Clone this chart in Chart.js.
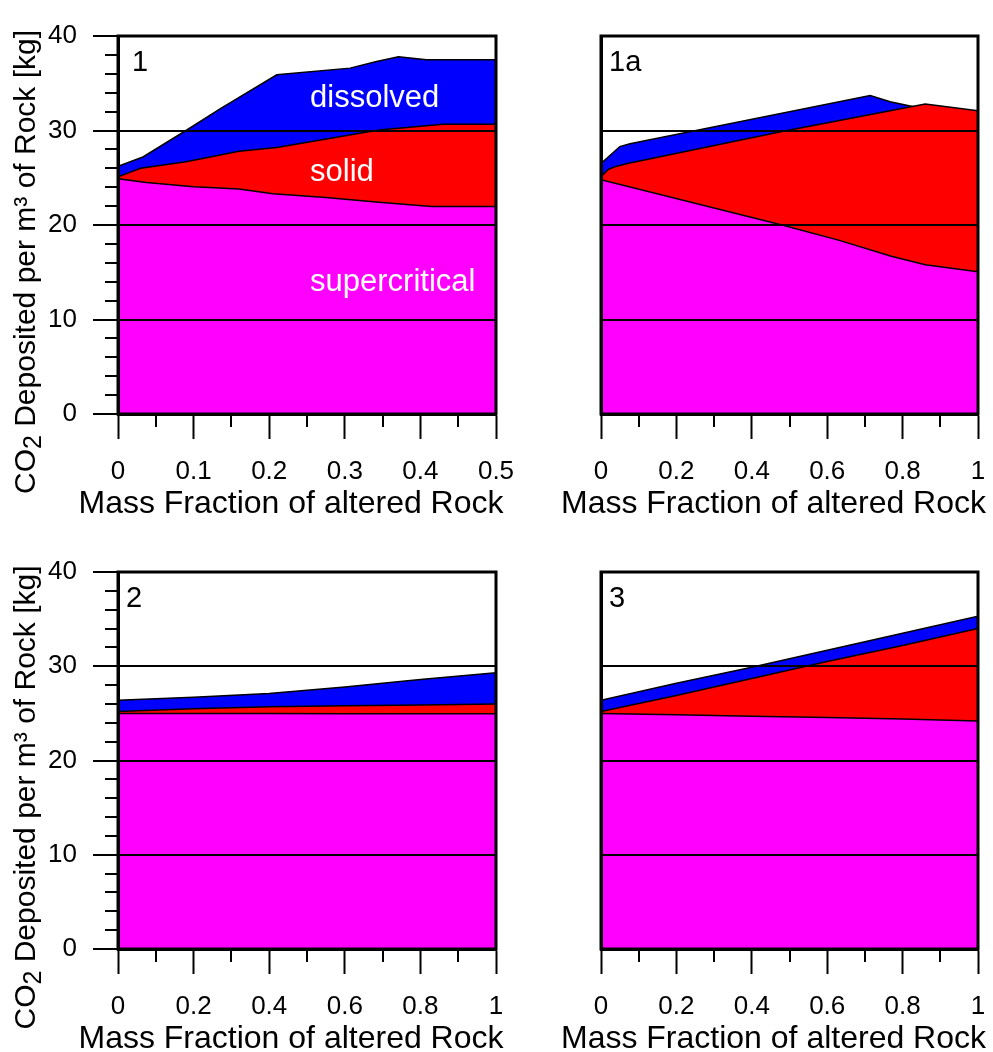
<!DOCTYPE html>
<html>
<head>
<meta charset="utf-8">
<title>CO2 deposited per m³ of rock</title>
<script src="https://cdn.jsdelivr.net/npm/chart.js@4/dist/chart.umd.min.js"></script>
<style>
  html, body { margin: 0; padding: 0; background: #fff; overflow: hidden; }
  #wrap { position: relative; width: 993px; height: 1052px; }
  canvas { position: absolute; }
</style>
</head>
<body>
<div id="wrap">
  <canvas id="c1"  width="520" height="526" style="left:0px;top:0px"></canvas>
  <canvas id="c1a" width="473" height="526" style="left:520px;top:0px"></canvas>
  <canvas id="c2"  width="520" height="516" style="left:0px;top:536px"></canvas>
  <canvas id="c3"  width="473" height="516" style="left:520px;top:536px"></canvas>
</div>
<script>
// ---- Case 1 (mass fraction 0 - 0.5) ----
const case1SuperX = [0, 0.0375, 0.1, 0.16, 0.205, 0.275, 0.345, 0.415, 0.5];
const case1SuperY = [24.9, 24.5, 24.05, 23.8, 23.3, 22.9, 22.4, 21.95, 21.95];
const case1SolidX = [0, 0.0165, 0.03, 0.09, 0.16, 0.21, 0.345, 0.43, 0.5];
const case1SolidY = [25.1, 25.6, 26.0, 26.7, 27.8, 28.2, 30.05, 30.65, 30.65];
const case1DissX  = [0, 0.033, 0.09, 0.135, 0.21, 0.307, 0.342, 0.371, 0.408, 0.5];
const case1DissY  = [26.2, 27.2, 30.0, 32.3, 35.9, 36.6, 37.3, 37.8, 37.5, 37.5];

// ---- Case 1a ----
const case1aSuperX = [0, 0.48, 0.63, 0.77, 0.86, 1.0];
const case1aSuperY = [24.8, 20.0, 18.4, 16.7, 15.8, 15.05];
const case1aSolidX = [0, 0.02, 0.04, 0.07, 0.48, 0.86, 1.0];
const case1aSolidY = [25.1, 25.9, 26.2, 26.5, 29.9, 32.8, 32.1];
const case1aDissX  = [0, 0.05, 0.077, 0.714, 0.767, 0.82, 1.0];
const case1aDissY  = [26.5, 28.3, 28.6, 33.7, 33.05, 32.6, 31.2];

// ---- Case 2 ----
const case2X      = [0, 0.2, 0.4, 0.6, 0.8, 1.0];
const case2Super  = [25.0, 25.0, 25.0, 24.95, 24.95, 24.95];
const case2Solid  = [25.2, 25.5, 25.7, 25.8, 25.9, 26.0];
const case2Diss   = [26.4, 26.7, 27.1, 27.8, 28.6, 29.3];

// ---- Case 3 ----
const case3X      = [0, 0.2, 0.4, 0.6, 0.8, 1.0];
const case3Super  = [25.0, 24.85, 24.7, 24.55, 24.4, 24.2];
const case3Solid  = [25.2, 26.9, 28.7, 30.5, 32.2, 34.0];
const case3Diss   = [26.4, 28.2, 29.9, 31.7, 33.5, 35.3];

// ---- Axes ----
const halfXTicks       = [0, 0.1, 0.2, 0.3, 0.4, 0.5];
const halfXTickLabels  = ['0', '0.1', '0.2', '0.3', '0.4', '0.5'];
const halfXMinor       = [0.05, 0.15, 0.25, 0.35, 0.45];
const fullXTicks       = [0, 0.2, 0.4, 0.6, 0.8, 1];
const fullXTickLabels  = ['0', '0.2', '0.4', '0.6', '0.8', '1'];
const fullXMinor       = [0.1, 0.3, 0.5, 0.7, 0.9];
const yTicks           = [0, 10, 20, 30, 40];
const yTickLabels      = ['0', '10', '20', '30', '40'];
const yMinor           = [2, 4, 6, 8, 12, 14, 16, 18, 22, 24, 26, 28, 32, 34, 36, 38];

const xTitle = 'Mass Fraction of altered Rock';
const seriesNames = ['supercritical', 'solid', 'dissolved'];
const seriesColors = ['#FF00FF', '#FF0000', '#0000FF'];

const FONT = '"Liberation Sans", Arial, Helvetica, sans-serif';

function pts(xs, ys) { return xs.map((x, i) => ({ x: x, y: ys[i] })); }

// Frame, minor ticks, panel label, axis titles and in-plot region names
const panelDecor = {
  id: 'panelDecor',
  afterDraw(chart, args, o) {
    const ctx = chart.ctx;
    const a = chart.chartArea;
    const xs = chart.scales.x, ys = chart.scales.y;
    ctx.save();
    // frame
    ctx.strokeStyle = '#000';
    ctx.lineWidth = 3;
    ctx.strokeRect(a.left, a.top, a.right - a.left, a.bottom - a.top);
    // minor ticks
    ctx.lineWidth = 2;
    ctx.beginPath();
    o.xMinor.forEach(v => {
      const px = Math.round(xs.getPixelForValue(v));
      ctx.moveTo(px, a.bottom);
      ctx.lineTo(px, a.bottom + 13);
    });
    if (o.showY) {
      yMinor.forEach(v => {
        const py = Math.round(ys.getPixelForValue(v));
        ctx.moveTo(a.left - 13, py);
        ctx.lineTo(a.left, py);
      });
    }
    ctx.stroke();
    // panel label
    ctx.fillStyle = '#000';
    ctx.textAlign = 'left';
    ctx.textBaseline = 'alphabetic';
    ctx.font = '29px ' + FONT;
    ctx.fillText(o.label, a.left + o.labelDx, a.top + 35);
    // x title
    ctx.font = '32px ' + FONT;
    ctx.textAlign = 'center';
    ctx.fillText(xTitle, (a.left + a.right) / 2 - 16, a.bottom + 99);
    // y title with subscript
    if (o.showY) {
      ctx.save();
      ctx.translate(35, (a.top + a.bottom) / 2 + 37);
      ctx.rotate(-Math.PI / 2);
      const parts = [
        { t: 'CO', f: '30px ' + FONT, dy: 0 },
        { t: '2', f: '25px ' + FONT, dy: 6 },
        { t: ' Deposited per m\u00B3 of Rock [kg]', f: '30px ' + FONT, dy: 0 }
      ];
      let w = 0;
      parts.forEach(p => { ctx.font = p.f; p.w = ctx.measureText(p.t).width; w += p.w; });
      let x = -w / 2;
      ctx.textAlign = 'left';
      parts.forEach(p => { ctx.font = p.f; ctx.fillText(p.t, x, p.dy); x += p.w; });
      ctx.restore();
    }
    // region names
    if (o.notes) {
      ctx.fillStyle = '#fff';
      ctx.textAlign = 'left';
      ctx.font = '31px ' + FONT;
      o.notes.forEach(n => {
        ctx.fillText(n.text, xs.getPixelForValue(n.x), ys.getPixelForValue(n.y));
      });
    }
    ctx.restore();
  }
};

function makePanel(id, cfg) {
  const sets = cfg.series.map((s, i) => ({
    label: seriesNames[i],
    data: s,
    borderColor: '#000',
    borderWidth: 1.5,
    backgroundColor: seriesColors[i],
    fill: 'origin',
    pointRadius: 0,
    tension: 0
  }));
  const canvas = document.getElementById(id);
  new Chart(canvas, {
    type: 'line',
    data: { datasets: sets },
    options: {
      responsive: false,
      animation: false,
      events: [],
      layout: { padding: { left: 0, top: 36, right: cfg.padRight, bottom: 0 }, autoPadding: false },
      plugins: {
        legend: { display: false },
        tooltip: { enabled: false },
        panelDecor: { label: cfg.label, labelDx: cfg.labelDx, showY: cfg.showY, xMinor: cfg.xMinor, notes: cfg.notes }
      },
      scales: {
        x: {
          type: 'linear',
          position: 'bottom',
          min: 0,
          max: cfg.xMax,
          afterBuildTicks: s => { s.ticks = cfg.xTicks.map(v => ({ value: v })); },
          ticks: {
            autoSkip: false,
            maxRotation: 0,
            padding: 17,
            color: '#000',
            font: { family: FONT, size: 26 },
            callback: (v, i) => cfg.xTickLabels[i]
          },
          grid: {
            drawOnChartArea: false,
            drawTicks: true,
            tickLength: 25,
            tickWidth: 2,
            tickColor: '#000',
            color: '#000'
          },
          border: { display: true, color: '#000', width: 3 },
          afterFit: s => { s.height = cfg.xHeight; s.paddingLeft = 0; s.paddingRight = 0; }
        },
        y: {
          type: 'linear',
          position: 'left',
          min: 0,
          max: 40,
          afterBuildTicks: s => { s.ticks = yTicks.map(v => ({ value: v })); },
          ticks: {
            display: cfg.showY,
            padding: 16,
            color: '#000',
            font: { family: FONT, size: 26 },
            callback: (v, i) => yTickLabels[i]
          },
          grid: {
            z: 1,
            color: '#000',
            lineWidth: 2,
            drawTicks: cfg.showY,
            tickLength: cfg.showY ? 25 : 0,
            tickWidth: 2,
            tickColor: '#000'
          },
          border: { display: true, color: '#000', width: 3, z: 1 },
          afterFit: s => { s.width = cfg.yWidth; s.paddingTop = 0; s.paddingBottom = 0; }
        }
      }
    },
    plugins: [panelDecor]
  });
}

makePanel('c1', {
  label: '1', labelDx: 14, showY: true, xMax: 0.5,
  xTicks: halfXTicks, xTickLabels: halfXTickLabels, xMinor: halfXMinor,
  yWidth: 118, xHeight: 112, padRight: 24,
  series: [pts(case1SuperX, case1SuperY), pts(case1SolidX, case1SolidY), pts(case1DissX, case1DissY)],
  notes: [
    { text: 'dissolved', x: 0.254, y: 32.5 },
    { text: 'solid', x: 0.254, y: 24.7 },
    { text: 'supercritical', x: 0.254, y: 13.0 }
  ]
});

makePanel('c1a', {
  label: '1a', labelDx: 8, showY: false, xMax: 1,
  xTicks: fullXTicks, xTickLabels: fullXTickLabels, xMinor: fullXMinor,
  yWidth: 81, xHeight: 112, padRight: 15,
  series: [pts(case1aSuperX, case1aSuperY), pts(case1aSolidX, case1aSolidY), pts(case1aDissX, case1aDissY)]
});

makePanel('c2', {
  label: '2', labelDx: 8, showY: true, xMax: 1,
  xTicks: fullXTicks, xTickLabels: fullXTickLabels, xMinor: fullXMinor,
  yWidth: 118, xHeight: 103, padRight: 24,
  series: [pts(case2X, case2Super), pts(case2X, case2Solid), pts(case2X, case2Diss)]
});

makePanel('c3', {
  label: '3', labelDx: 8, showY: false, xMax: 1,
  xTicks: fullXTicks, xTickLabels: fullXTickLabels, xMinor: fullXMinor,
  yWidth: 81, xHeight: 103, padRight: 15,
  series: [pts(case3X, case3Super), pts(case3X, case3Solid), pts(case3X, case3Diss)]
});
</script>
</body>
</html>
